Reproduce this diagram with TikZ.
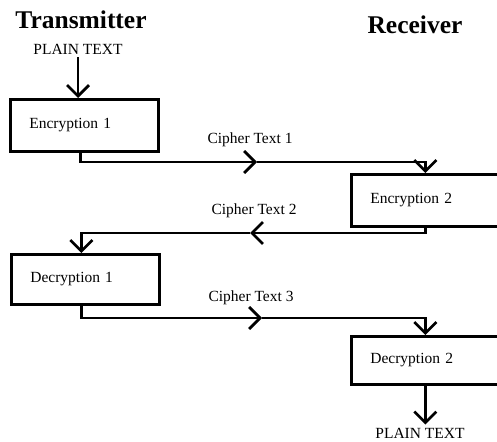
\documentclass[tikz,border=0pt]{standalone}
\usepackage{fontspec}
\setmainfont{Liberation Serif}
\usetikzlibrary{arrows.meta, positioning}

\begin{document}
\begin{tikzpicture}[x=1pt, y=-1pt, line width=2.7pt,
    >={Straight Barb[length=11pt, width=22pt]},
    box/.style={draw, anchor=north west, minimum height=#1, inner xsep=19pt, inner ysep=0pt,
        text width=110pt, align=left, font=\fontsize{15.5}{18}\selectfont},
    box/.default=52pt,
    lbl/.style={inner sep=2pt, font=\fontsize{15.5}{18}\selectfont},
    title/.style={inner sep=1pt, font=\bfseries\fontsize{25.5}{30}\selectfont}]
        \useasboundingbox (0,0) rectangle (497,441);

        \node[title] (tx) at (81,20) {Transmitter};
        \node[title] (rx) at (415,25) {Receiver};

        \node[lbl] (pt1) at (78,49) {PLAIN TEXT};
        \node[box] (enc1) at (9,98) {Encryption 1};
        \node[box] (enc2) at (350,173) {Encryption 2};
        \node[box=50pt] (dec1) at (10,253) {Decryption 1};
        \node[box=48pt] (dec2) at (350,335) {Decryption 2};
        \node[lbl] (pt2) at (420,433) {PLAIN TEXT};

        % turning points of the links
        \coordinate (c1) at (257,162);
        \coordinate (c2) at (250,233);
        \coordinate (c3) at (262,318);

        \node[lbl] (ct1) at (250,140) {Cipher Text 1};
        \node[lbl] (ct2) at (254,211) {Cipher Text 2};
        \node[lbl] (ct3) at (251,298) {Cipher Text 3};

        \draw[->] (pt1.south) -- (pt1.south |- enc1.north);
        \draw[->] ([xshift=-4pt]enc1.south) |- (c1);
        \draw[->] (c1) -| (enc2.north);
        \draw[->] (enc2.south) |- (c2);
        \draw[->] (c2) -| ([xshift=-4pt]dec1.north);
        \draw[->] ([xshift=-4pt]dec1.south) |- (c3);
        \draw[->] (c3) -| (dec2.north);
        \draw[->] (dec2.south) -- (dec2.south |- pt2.north);
    \end{tikzpicture}
\end{document}
